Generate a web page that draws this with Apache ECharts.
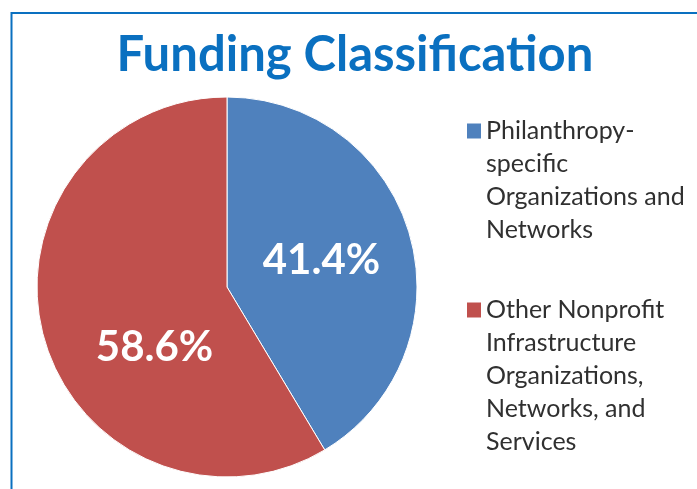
<!DOCTYPE html>
<html>
<head>
<meta charset="utf-8">
<script src="https://cdn.jsdelivr.net/npm/echarts@6/dist/echarts.min.js"></script>
<style>
  html, body { margin: 0; padding: 0; background: #fff; }
  #chart { width: 697px; height: 489px; }
</style>
</head>
<body>
<div id="chart"></div>
<script>
// data
var categories = [
  'Philanthropy-\nspecific\nOrganizations and\nNetworks',
  'Other Nonprofit\nInfrastructure\nOrganizations,\nNetworks, and\nServices'
];
var shares = [41.4, 58.6];
var sliceColors = ['#4f81bd', '#c0504d'];

var myChart = echarts.init(document.getElementById('chart'));

var LH = 33; // legend line height
// legend text is centred on the square, so blank lines on top move the first line next to it
function legendFor(i, firstLineY) {
  var lines = categories[i].split('\n').length;
  return {
    data: [categories[i]],
    formatter: function (name) {
      return new Array(lines).join('\n') + name;
    },
    left: 467,
    top: firstLineY - (2 * lines - 1) * LH / 2,
    padding: 0,
    orient: 'vertical',
    icon: 'rect',
    itemWidth: 14,
    itemHeight: 15,
    itemGap: 0,
    itemStyle: { borderWidth: 0 },
    textStyle: {
      fontFamily: 'Lato',
      fontSize: 25,
      lineHeight: LH,
      color: '#303030'
    },
    selectedMode: false
  };
}

var option = {
  animation: false,
  title: {
    text: 'Funding Classification',
    left: 350,
    textAlign: 'center',
    top: 26,
    textStyle: {
      fontFamily: 'Lato',
      fontWeight: 'bold',
      fontSize: 49,
      color: '#0a70c0'
    }
  },
  graphic: [{
    type: 'rect',
    shape: { x: 11.5, y: 13, width: 800, height: 600 },
    style: { fill: 'none', stroke: '#0a70c0', lineWidth: 2 },
    silent: true
  }],
  legend: [legendFor(0, 131), legendFor(1, 310)],
  series: [{
    type: 'pie',
    center: [227, 287],
    radius: [0, 190],
    startAngle: 90,
    clockwise: true,
    itemStyle: { borderColor: '#fff', borderWidth: 1 },
    label: {
      position: 'inside',
      formatter: '{c}%',
      color: '#fff',
      fontFamily: 'Lato',
      fontWeight: 'bold',
      fontSize: 42
    },
    labelLine: { show: false },
    data: categories.map(function (name, i) {
      var d = { name: name, value: shares[i], itemStyle: { color: sliceColors[i] } };
      if (i === 1) d.label = { offset: [22, 34] };
      return d;
    })
  }]
};

myChart.setOption(option);
</script>
</body>
</html>
